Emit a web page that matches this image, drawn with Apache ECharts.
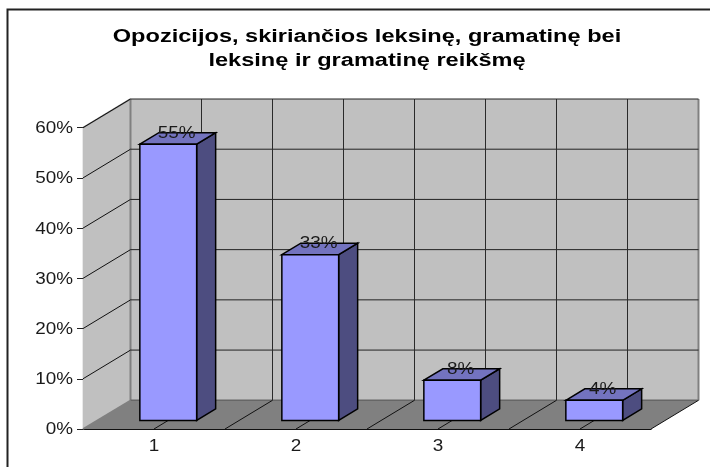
<!DOCTYPE html>
<html>
<head>
<meta charset="utf-8">
<style>html,body{margin:0;padding:0;background:#fff}#main{width:710px;height:467px}</style>
<script src="https://cdn.jsdelivr.net/npm/echarts@6/dist/echarts.min.js"></script>
</head>
<body>
<div id="main"></div>
<script>
const titleLines = ['Opozicijos, skiriančios leksinę, gramatinę bei', 'leksinę ir gramatinę reikšmę'];
const categories = ['1', '2', '3', '4'];
const values = [55, 33, 8, 4];
const valueLabels = ['55%', '33%', '8%', '4%'];
const yTicks = [0, 10, 20, 30, 40, 50, 60];
const yTickLabels = ['0%', '10%', '20%', '30%', '40%', '50%', '60%'];

// depth of the fake 3d box, in pixels
const DX = 47.5, DY = -28.7;
const TEXT_STRETCH = 1.18;
const FONT = 'Liberation Sans, Arial, sans-serif';

const myChart = echarts.init(document.getElementById('main'));

function poly(points, fill, stroke, lineWidth) {
    return {
        type: 'polygon',
        shape: { points: points },
        style: { fill: fill, stroke: stroke || null, lineWidth: lineWidth || 0, lineJoin: 'miter' }
    };
}
function seg(a, b, color, width) {
    return {
        type: 'line',
        shape: { x1: a[0], y1: a[1], x2: b[0], y2: b[1] },
        style: { stroke: color, lineWidth: width }
    };
}
function back(p, k) {
    return [p[0] + DX * k, p[1] + DY * k];
}
function stretchedText(text, x, y, font, align, fill) {
    return {
        type: 'text', x: x, y: y, scaleX: TEXT_STRETCH,
        style: { text: text, font: font, fill: fill || '#1a1a1a', align: align, verticalAlign: 'middle' }
    };
}

function renderWalls(params, api) {
    const band = api.size([1, 0])[0];
    const bl = api.coord([0, 0]);
    bl[0] -= band / 2;
    const tl = api.coord([0, 60]);
    tl[0] -= band / 2;
    const br = [bl[0] + band * categories.length, bl[1]];
    const tr = [br[0], tl[1]];
    return {
        type: 'group',
        children: [
            poly([bl, tl, back(tl, 1), back(bl, 1)], '#c0c0c0'),
            poly([back(bl, 1), back(tl, 1), back(tr, 1), back(br, 1)], '#c0c0c0'),
            poly([bl, back(bl, 1), back(br, 1), br], '#808080'),
            seg(bl, back(bl, 1), '#808080', 1.5),
            seg(tl, back(tl, 1), '#808080', 1.5),
            seg(back(bl, 1), back(tl, 1), '#808080', 2),
            seg(back(bl, 1), back(br, 1), '#666666', 1.5),
            seg(back(br, 1), back(tr, 1), '#808080', 2),
            seg(br, back(br, 1), '#111111', 1)
        ]
    };
}

function renderYGrid(params, api) {
    const band = api.size([1, 0])[0];
    const v = api.value(0);
    const a = api.coord([0, v]);
    a[0] -= band / 2;
    const b = [a[0] + band * categories.length, a[1]];
    const children = [];
    if (v > 0) {
        children.push(seg(a, back(a, 1), '#111111', 1));
        children.push(seg(back(a, 1), back(b, 1), '#222222', 1));
    }
    children.push(stretchedText(yTickLabels[params.dataIndex], a[0] - 10, a[1] + 1, '16px ' + FONT, 'right'));
    return { type: 'group', children: children };
}

function renderXGrid(params, api) {
    const band = api.size([1, 0])[0];
    const c = api.coord([api.value(0), 0]);
    const children = [];
    // grid runs at category centre and at its right edge
    [c[0], c[0] + band / 2].forEach(function (x, i) {
        if (i === 1 && params.dataIndex === categories.length - 1) return;
        const p = [x, c[1]];
        const q = back(p, 1);
        children.push(seg(p, q, '#111111', 1));
        children.push(seg(q, [q[0], api.coord([0, 60])[1] + DY], '#2a2a2a', 1));
    });
    children.push(stretchedText(categories[params.dataIndex], c[0], c[1] + 18, '16px ' + FONT, 'center'));
    return { type: 'group', children: children };
}

function renderBar(params, api) {
    const band = api.size([1, 0])[0];
    const w = band * 0.4;
    const i = api.value(0);
    const base = back(api.coord([i, 0]), 0.3);
    const top = api.coord([i, api.value(1)]);
    const y1 = base[1], y0 = top[1] + DY * 0.3;
    const l = base[0] - w / 2, r = base[0] + w / 2;
    const fl = [l, y0], fr = [r, y0], br = [r, y1];
    const bl = [l, y1];
    const line = { stroke: '#000', width: 1.5 };
    return {
        type: 'group',
        children: [
            poly([fr, back(fr, 0.4), back(br, 0.4), br], '#4d4d80', line.stroke, line.width),
            poly([fl, back(fl, 0.4), back(fr, 0.4), fr], '#7373bf', line.stroke, line.width),
            poly([fl, fr, br, bl], '#9999ff', line.stroke, line.width),
            stretchedText(valueLabels[params.dataIndex], base[0] + 8.5, y0 + DY * 0.4 + 0.5, '16px ' + FONT, 'center')
        ]
    };
}

const option = {
    animation: false,
    backgroundColor: '#fff',
    grid: { left: 83, right: 59, top: 127.7, bottom: 38 },
    xAxis: {
        type: 'category',
        data: categories,
        axisLine: { lineStyle: { color: '#111', width: 1.2 } },
        axisTick: { length: 5, lineStyle: { color: '#222' } },
        axisLabel: { show: false },
        splitLine: { show: false }
    },
    yAxis: {
        type: 'value',
        min: 0,
        max: 60,
        interval: 10,
        axisLine: { show: true, lineStyle: { color: '#333', width: 1.2 } },
        axisTick: { show: true, length: 6, lineStyle: { color: '#222' } },
        axisLabel: { show: false },
        splitLine: { show: false }
    },
    graphic: [
        { type: 'rect', silent: true, shape: { x: 7.5, y: 9.5, width: 720, height: 480 },
          style: { fill: null, stroke: '#222', lineWidth: 2 } },
        { type: 'text', x: 367, y: 37, scaleX: 1.31,
          style: { text: titleLines[0], font: 'bold 18px ' + FONT, fill: '#000', align: 'center', verticalAlign: 'middle' } },
        { type: 'text', x: 367, y: 61, scaleX: 1.31,
          style: { text: titleLines[1], font: 'bold 18px ' + FONT, fill: '#000', align: 'center', verticalAlign: 'middle' } }
    ],
    series: [
        { type: 'custom', name: 'walls', z: 1, silent: true, data: [[0]], renderItem: renderWalls },
        { type: 'custom', name: 'yGrid', z: 2, silent: true, data: yTicks.map(v => [v]), renderItem: renderYGrid },
        { type: 'custom', name: 'xGrid', z: 2, silent: true, data: categories.map((c, i) => [i]), renderItem: renderXGrid },
        { type: 'custom', name: 'bars', z: 3, silent: true, data: values.map((v, i) => [i, v]), renderItem: renderBar }
    ]
};

myChart.setOption(option);
</script>
</body>
</html>
